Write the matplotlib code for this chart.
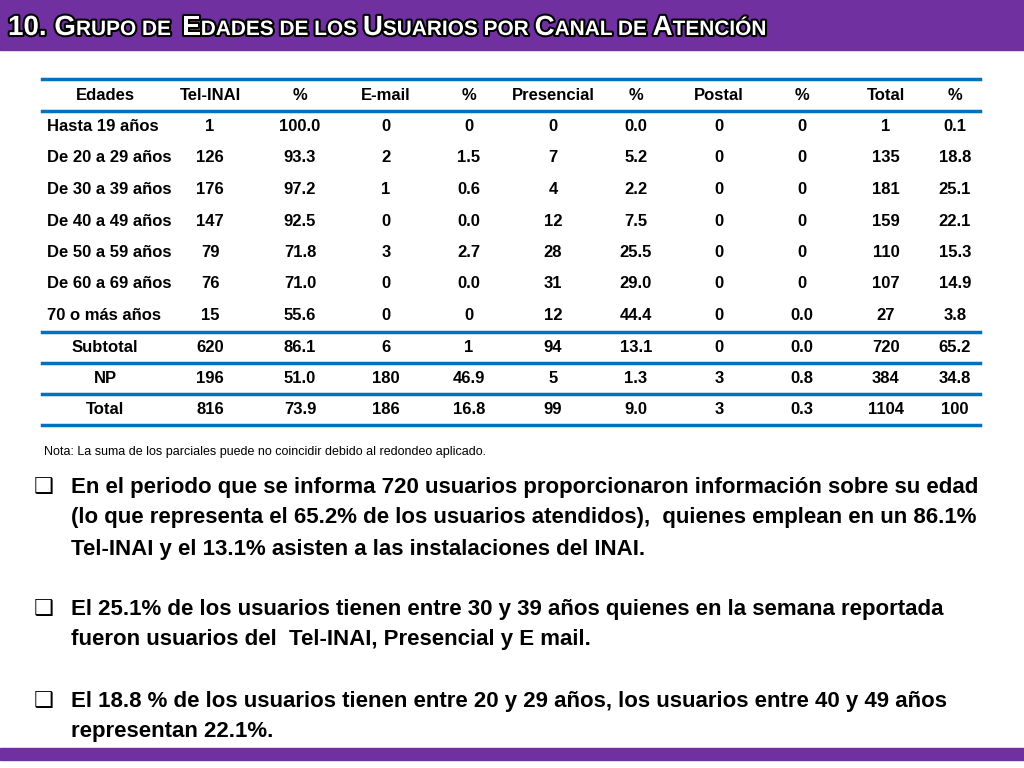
import matplotlib
matplotlib.use("Agg")
import matplotlib.pyplot as plt
from matplotlib.patches import Rectangle
import matplotlib.patheffects as pe

# ── Data ─────────────────────────────────────────────
HEADERS = ["Edades", "Tel-INAI", "%", "E-mail", "%", "Presencial", "%",
           "Postal", "%", "Total", "%"]
ROW_LABELS = ["Hasta 19 años", "De 20 a 29 años", "De 30 a 39 años",
              "De 40 a 49 años", "De 50 a 59 años", "De 60 a 69 años",
              "70 o más años", "Subtotal", "NP", "Total"]
TEL = ["1", "126", "176", "147", "79", "76", "15", "620", "196", "816"]
TEL_P = ["100.0", "93.3", "97.2", "92.5", "71.8", "71.0", "55.6", "86.1", "51.0", "73.9"]
MAIL = ["0", "2", "1", "0", "3", "0", "0", "6", "180", "186"]
MAIL_P = ["0", "1.5", "0.6", "0.0", "2.7", "0.0", "0", "1", "46.9", "16.8"]
PRES = ["0", "7", "4", "12", "28", "31", "12", "94", "5", "99"]
PRES_P = ["0.0", "5.2", "2.2", "7.5", "25.5", "29.0", "44.4", "13.1", "1.3", "9.0"]
POST = ["0", "0", "0", "0", "0", "0", "0", "0", "3", "3"]
POST_P = ["0", "0", "0", "0", "0", "0", "0.0", "0.0", "0.8", "0.3"]
TOT = ["1", "135", "181", "159", "110", "107", "27", "720", "384", "1104"]
TOT_P = ["0.1", "18.8", "25.1", "22.1", "15.3", "14.9", "3.8", "65.2", "34.8", "100"]

PURPLE = "#7030A0"
BLUE = "#0070C0"
FONT = "Liberation Sans"

fig = plt.figure(figsize=(10.24, 7.68), dpi=100)
ax = fig.add_axes([0, 0, 1, 1])
ax.set_xlim(0, 1024)
ax.set_ylim(768, 0)
ax.axis("off")

# header and footer bars
ax.add_patch(Rectangle((0, 0), 1024, 50, color=PURPLE))
ax.add_patch(Rectangle((0, 748), 1024, 12, color=PURPLE))
stroke = [pe.withStroke(linewidth=3, foreground="black")]
# small-caps title: big initials, smaller rest
parts = [("10. G", 20), ("RUPO DE  ", 15), ("E", 20), ("DADES DE LOS ", 15),
         ("U", 20), ("SUARIOS POR ", 15), ("C", 20), ("ANAL DE ", 15),
         ("A", 20), ("TENCIÓN", 15)]
fig.canvas.draw()
x = 8
for txt, fs in parts:
    t = ax.text(x, 35, txt, color="white", fontsize=fs, fontweight="bold",
                family=FONT, va="baseline", path_effects=stroke)
    bb = t.get_window_extent(renderer=fig.canvas.get_renderer())
    x += bb.width

# table
col_x = [105, 210, 300, 386, 469, 553, 636, 719, 802, 886, 955]
row_y0, row_h = 95, 31.5
for x, h in zip(col_x, HEADERS):
    ax.text(x, row_y0, h, ha="center", va="center", fontsize=12,
            fontweight="bold", family=FONT)
cols = [TEL, TEL_P, MAIL, MAIL_P, PRES, PRES_P, POST, POST_P, TOT, TOT_P]
for i, lab in enumerate(ROW_LABELS):
    y = row_y0 + (i + 1) * row_h
    if i < 7:
        ax.text(47, y, lab, ha="left", va="center", fontsize=12,
                fontweight="bold", family=FONT)
    else:
        ax.text(col_x[0], y, lab, ha="center", va="center", fontsize=12,
                fontweight="bold", family=FONT)
    for x, c in zip(col_x[1:], cols):
        ax.text(x, y, c[i], ha="center", va="center", fontsize=12,
                fontweight="bold", family=FONT)

for y in [79, 111, 332, 363, 394, 425]:
    ax.plot([42, 980], [y, y], color=BLUE, lw=2.5)

ax.text(44, 452, "Nota: La suma de los parciales puede no coincidir debido al redondeo aplicado.",
        fontsize=9, family=FONT, va="center")

bullets = [
    (487, ["En el periodo que se informa 720 usuarios proporcionaron información sobre su edad",
           "(lo que representa el 65.2% de los usuarios atendidos),  quienes emplean en un 86.1%",
           "Tel-INAI y el 13.1% asisten a las instalaciones del INAI."]),
    (609, ["El 25.1% de los usuarios tienen entre 30 y 39 años quienes en la semana reportada",
           "fueron usuarios del  Tel-INAI, Presencial y E mail."]),
    (701, ["El 18.8 % de los usuarios tienen entre 20 y 29 años, los usuarios entre 40 y 49 años",
           "representan 22.1%."]),
]
for y0, lines in bullets:
    ax.text(34, y0, "❑", fontsize=16, family="DejaVu Sans", va="center")
    for j, line in enumerate(lines):
        ax.text(71, y0 + j * 31, line, fontsize=16, fontweight="bold",
                family=FONT, va="center")

fig.savefig("out.png", dpi=100)
